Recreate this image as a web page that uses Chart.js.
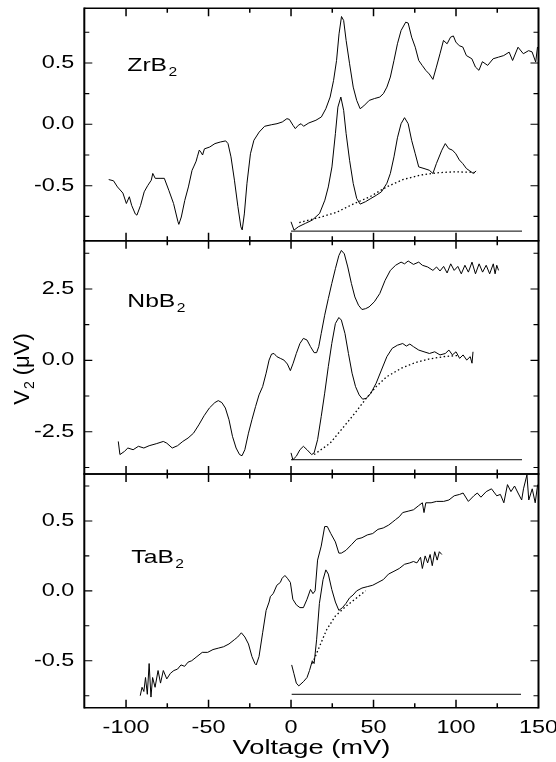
<!DOCTYPE html>
<html>
<head>
<meta charset="utf-8">
<script src="https://cdn.jsdelivr.net/npm/chart.js@4.4.0/dist/chart.umd.min.js"></script>
<style>
  html, body { margin: 0; padding: 0; background: #fff; }
  #wrap { position: relative; width: 556px; height: 762px; }
  #wrap canvas { position: absolute; left: 0; top: 0; }
</style>
</head>
<body>
<div id="wrap">
  <canvas id="cZr" width="556" height="762"></canvas>
  <canvas id="cNb" width="556" height="762"></canvas>
  <canvas id="cTa" width="556" height="762"></canvas>
</div>
<script>
// ---- axes ----
const xLabelTicks = [-100, -50, 0, 50, 100, 150];
const xTickMarks = [-100, -75, -50, -25, 0, 25, 50, 75, 100, 125];
const smallTicks = [-0.75, -0.5, -0.25, 0, 0.25, 0.5, 0.75];
const smallMajor = [-0.5, 0, 0.5];
const nbTicks = [-3.75, -2.5, -1.25, 0, 1.25, 2.5, 3.75];
const nbMajor = [-2.5, 0, 2.5];

// ---- ZrB2 ----
const zrTopX = [
  -110.5, -107.6, -105.2, -101.9, -99.8, -98, -96.6, -94.4, -93.4, -91.2,
  -89, -86.9, -84.7, -83.8, -82.3, -79.4, -76.8, -74, -71.2, -68.6,
  -68, -66.5, -64.4, -62.2, -60, -58.8, -57.5, -56.8, -55.6, -54.7,
  -53.6, -52.5, -49.3, -46.1, -42.8, -39.6, -38.2, -36.4, -34.3, -32.2,
  -30.4, -29.6, -28.3, -26.7, -24.6, -22.5, -19.3, -16, -11.7, -8.5,
  -5.3, -2.5, -1, 1.2, 2.6, 4.4, 6.1, 7.6, 10.8, 15.1,
  18.4, 21.1, 23.7, 25.8, 27.6, 29.1, 30.6, 31.9, 33.4, 35.5,
  37.7, 39.8, 41.9, 44.1, 47.4, 50.6, 53.8, 56, 58.1, 60.2,
  62.4, 64.5, 66.7, 69.5, 71, 73.1, 75.3, 77.4, 79.5, 81.7,
  83.8, 86, 88.1, 90.3, 92.4, 94.6, 96.7, 98.4, 99.9, 102,
  104.1, 106.3, 109.6, 111.8, 113.9, 116, 119.2, 122.5, 125.7, 128.9,
  132.2, 134.3, 137.6, 140.8, 144, 146.1, 148.3, 149.4
];
const zrTopY = [
  -0.45, -0.46, -0.51, -0.56, -0.645, -0.59, -0.66, -0.73, -0.74, -0.66,
  -0.55, -0.5, -0.455, -0.40, -0.44, -0.44, -0.44, -0.54, -0.645, -0.79,
  -0.815, -0.755, -0.62, -0.51, -0.375, -0.34, -0.30, -0.265, -0.21, -0.225,
  -0.25, -0.2, -0.185, -0.157, -0.144, -0.135, -0.157, -0.265, -0.455, -0.67,
  -0.835, -0.86, -0.73, -0.48, -0.24, -0.13, -0.063, -0.016, -0.003, 0.005,
  0.019, 0.046, 0.04, -0.008, -0.035, -0.008, 0.005, -0.016, 0.011, 0.033,
  0.06, 0.127, 0.222, 0.358, 0.52, 0.737, 0.878, 0.846, 0.683, 0.493,
  0.303, 0.195, 0.127, 0.15, 0.195, 0.21, 0.222, 0.25, 0.303, 0.385,
  0.52, 0.656, 0.764, 0.832, 0.825, 0.71, 0.628, 0.52, 0.48, 0.439,
  0.41, 0.366, 0.466, 0.575, 0.683, 0.656, 0.71, 0.72, 0.67, 0.64,
  0.63, 0.56, 0.534, 0.466, 0.44, 0.51, 0.48, 0.534, 0.547, 0.56,
  0.588, 0.52, 0.628, 0.575, 0.6, 0.59, 0.507, 0.63
];
const zrLowX = [
  0, 1.8, 4.4, 8.7, 12.9, 17.3, 20.5, 22.6, 24.8, 26.9,
  28.4, 30.2, 31.9, 33.4, 35.5, 37.7, 39.8, 41.9, 45.2, 48.4,
  51.7, 54.8, 58.1, 60.2, 62.4, 64.5, 66.7, 68.8, 71, 73.1,
  75.3, 77.4, 80.6, 83.8, 86, 88.1, 91.4, 93.5, 95.6, 97.8,
  99.9, 102, 104.1, 106.3, 108.4, 110.5, 112.2
];
const zrLowY = [
  -0.794, -0.862, -0.835, -0.807, -0.78, -0.726, -0.618, -0.51, -0.347, -0.076,
  0.14, 0.222, 0.114, -0.076, -0.293, -0.482, -0.604, -0.65, -0.63, -0.604,
  -0.578, -0.55, -0.48, -0.4, -0.265, -0.11, 0.005, 0.054, 0.005, -0.13,
  -0.24, -0.347, -0.36, -0.374, -0.4, -0.32, -0.211, -0.157, -0.198, -0.21,
  -0.24, -0.29, -0.32, -0.36, -0.38, -0.40, -0.38
];
const zrBgX = [5, 17.3, 27.4, 37.6, 47.8, 57.9, 68.1, 78.3, 88.4, 98.6, 108.7, 113];
const zrBgY = [-0.80, -0.758, -0.718, -0.65, -0.59, -0.51, -0.449, -0.414, -0.395, -0.387, -0.39, -0.395];
const zrBaseX = [0, 140];
const zrBaseY = [-0.87, -0.87];

// ---- NbB2 ----
const nbTopX = [
  -104.7, -103.7, -101, -98.9, -95.7, -92.5, -89.2, -86, -81.7, -77.4,
  -75.3, -72, -68.8, -65.6, -62.4, -59.1, -55.9, -52.7, -49.5, -46.2,
  -44.1, -41.9, -39.8, -37.6, -35.5, -33.3, -31.2, -29.7, -28, -25.8,
  -23.7, -21.5, -19.4, -17.2, -15.1, -13.3, -11.8, -10.3, -8.6, -6.5,
  -4.3, -2.2, -0.4, 1.3, 3.2, 5.4, 7.5, 9.7, 11.8, 14,
  15.5, 16.8, 18.3, 20.4, 22.6, 24.7, 26.9, 29, 30.5, 32.3,
  34.4, 36.6, 38.7, 40.9, 43, 45.2, 47.3, 50.5, 53.8, 57,
  60.2, 63.4, 66.7, 68.8, 71, 74.2, 77.4, 79.6, 82.8, 86,
  88.2, 90.3, 92.5, 94.6, 96.8, 98.9, 101.1, 103.2, 105.4, 107.5,
  109.7, 111.8, 114, 116.1, 118.3, 120.4, 122.6, 123.7, 124.7, 125.8
];
const nbTopY = [
  -2.84, -3.30, -3.19, -3.07, -3.13, -3.01, -3.07, -2.99, -2.92, -2.84,
  -2.9, -3.07, -2.99, -2.84, -2.72, -2.55, -2.26, -1.94, -1.67, -1.48,
  -1.41, -1.48, -1.67, -2.08, -2.66, -3.07, -3.30, -3.34, -3.13, -2.55,
  -2.08, -1.62, -1.21, -0.92, -0.45, 0.01, 0.22, 0.24, 0.13, 0.07,
  0.01, -0.13, -0.36, -0.10, 0.24, 0.59, 0.77, 0.71, 0.48, 0.27,
  0.27, 0.48, 0.94, 1.58, 2.16, 2.69, 3.21, 3.67, 3.85, 3.73,
  3.27, 2.69, 2.22, 1.93, 1.78, 1.81, 1.87, 2.05, 2.34, 2.80,
  3.15, 3.33, 3.44, 3.38, 3.48, 3.36, 3.44, 3.33, 3.27, 3.15,
  3.27, 3.13, 3.29, 3.06, 3.38, 3.15, 3.29, 3.03, 3.33, 3.09,
  3.44, 3.03, 3.38, 3.09, 3.33, 3.03, 3.38, 3.03, 3.33, 3.15
];
const nbLowX = [
  0, 1.1, 3.2, 5.4, 7.5, 9.7, 12.5, 14, 16.1, 18.3,
  20.4, 22.6, 24.7, 26.9, 29, 30.5, 32.7, 34.8, 37, 39.1,
  41.3, 43.4, 45.6, 48.4, 51.6, 54.8, 58.1, 61.3, 64.5, 67.7,
  69.9, 72, 74.2, 77.4, 80.6, 83.9, 87.1, 90.3, 93.5, 95.7,
  97.8, 100, 102.2, 104.3, 106.5, 108.6, 109.7, 110.3
];
const nbLowY = [
  -3.24, -3.48, -3.36, -3.13, -3.01, -3.13, -3.30, -3.24, -2.78, -1.97,
  -1.15, -0.22, 0.59, 1.29, 1.50, 1.41, 0.94, 0.24, -0.45, -0.92,
  -1.21, -1.36, -1.33, -1.15, -0.80, -0.34, 0.13, 0.42, 0.53, 0.59,
  0.50, 0.57, 0.48, 0.36, 0.30, 0.24, 0.30, 0.19, 0.24, 0.36,
  0.19, 0.30, 0.07, 0.19, 0.01, 0.13, -0.10, 0.30
];
const nbBgX = [14, 23.7, 31.2, 38.7, 45.2, 51.6, 58.1, 66.7, 75.3, 83.9, 92.5, 101.1];
const nbBgY = [-3.30, -2.90, -2.38, -1.85, -1.36, -0.92, -0.57, -0.28, -0.08, 0.05, 0.13, 0.17];
const nbBaseX = [0, 140];
const nbBaseY = [-3.48, -3.48];

// ---- TaB2 ----
const taTopX = [
  -91.4, -90.3, -89.2, -88.2, -87.1, -86, -84.9, -83.9, -82.4, -80.6,
  -79.1, -77.4, -75.3, -73.1, -71, -68.8, -66.7, -64.5, -62.4, -60.2,
  -57, -53.8, -50.5, -47.3, -44.1, -40.9, -37.6, -34.4, -32.3, -30.1,
  -28, -25.8, -23.7, -21.9, -21.1, -19.4, -17.2, -15.1, -13.3, -12.5,
  -10.8, -8.6, -6.5, -5.4, -3.7, -2.2, -0.4, 1.1, 3.2, 5.4,
  7.5, 9.7, 11.8, 13.3, 14.6, 16.1, 18.3, 20.4, 22, 24.1,
  26.9, 29, 30.5, 33.3, 36.6, 39.8, 43, 46.2, 49.5, 52.7,
  55.9, 59.1, 61.3, 63.4, 65.6, 67.7, 71, 74.2, 77.4, 79.6,
  80.6, 81.7, 84.9, 88.2, 92.5, 95.7, 98.9, 102.2, 104.3, 107.5,
  110.8, 112.9, 115.1, 118.3, 121.5, 124.7, 126.9, 129, 131.2, 133.3,
  135.5, 137.6, 139.8, 140.9, 143, 144.1, 146.2, 148, 149.5
];
const taTopY = [
  -0.75, -0.69, -0.72, -0.62, -0.74, -0.52, -0.76, -0.62, -0.69, -0.57,
  -0.66, -0.57, -0.63, -0.59, -0.57, -0.56, -0.53, -0.54, -0.51, -0.50,
  -0.47, -0.44, -0.44, -0.42, -0.41, -0.40, -0.38, -0.35, -0.33, -0.30,
  -0.33, -0.38, -0.47, -0.52, -0.53, -0.47, -0.30, -0.14, -0.08, -0.04,
  -0.02, 0.04, 0.06, 0.09, 0.11, 0.09, 0.06, -0.06, -0.10, -0.12,
  -0.12, -0.06, 0.01, -0.02, 0.00, 0.22, 0.32, 0.46, 0.46, 0.41,
  0.35, 0.27, 0.27, 0.29, 0.33, 0.37, 0.38, 0.40, 0.41, 0.44,
  0.45, 0.47, 0.49, 0.51, 0.53, 0.56, 0.57, 0.58, 0.61, 0.63,
  0.56, 0.63, 0.63, 0.64, 0.64, 0.65, 0.68, 0.69, 0.70, 0.64,
  0.68, 0.70, 0.67, 0.71, 0.73, 0.68, 0.69, 0.63, 0.76, 0.71,
  0.75, 0.70, 0.65, 0.73, 0.83, 0.65, 0.73, 0.63, 0.76
];
const taLowX = [
  0.4, 1.7, 3.2, 4.7, 7.5, 9.7, 11.2, 12.9, 14, 15.5,
  17.2, 19.4, 21.1, 22.6, 24.7, 26.9, 29, 31.2, 33.3, 35.5,
  37.6, 39.8, 43, 46.2, 49.5, 52.7, 55.9, 59.1, 62.4, 65.6,
  68.8, 72, 74.2, 76.3, 78.5, 79.6, 81.3, 82.8, 84.3, 85.6,
  87.1, 88.6, 89.9, 91.4
];
const taLowY = [
  -0.53, -0.59, -0.66, -0.68, -0.65, -0.62, -0.57, -0.50, -0.52, -0.35,
  -0.09, 0.08, 0.15, 0.12, 0.01, -0.08, -0.14, -0.12, -0.09, -0.05,
  -0.03, 0.00, 0.02, 0.03, 0.04, 0.06, 0.08, 0.12, 0.14, 0.16,
  0.19, 0.20, 0.21, 0.20, 0.24, 0.16, 0.25, 0.20, 0.26, 0.18,
  0.28, 0.22, 0.28, 0.26
];
const taBgX = [12.9, 17.2, 21.5, 26.9, 33.3, 40.9, 45.2];
const taBgY = [-0.52, -0.40, -0.28, -0.18, -0.11, -0.04, 0.00];
const taBaseX = [0.4, 139.4];
const taBaseY = [-0.74, -0.74];

// ---- layout ----
const FONT = '"Liberation Sans", Arial, Helvetica, sans-serif';
const W = 556, H = 762;
const PLOT_LEFT = 84.3, PLOT_RIGHT = 538.5;
const X_MIN = -125.3, X_MAX = 150;
const SX = 1.3; // the source figure's lettering is drawn wide

function pts(xs, ys) {
  return xs.map((x, i) => ({ x, y: ys[i] }));
}

function trace(xs, ys) {
  return { data: pts(xs, ys), borderColor: "#000", borderWidth: 1, pointRadius: 0, tension: 0, fill: false };
}

function dotted(xs, ys) {
  return { ...trace(xs, ys), borderDash: [1.5, 2.5], borderWidth: 1.3 };
}

function isMajor(list, v) {
  return list.some((m) => Math.abs(m - v) < 1e-9);
}

function wideText(ctx, text, x, y, size, align, baseline) {
  ctx.save();
  ctx.font = size + "px " + FONT;
  ctx.textAlign = align;
  ctx.textBaseline = baseline;
  ctx.translate(x, y);
  ctx.scale(SX, 1);
  ctx.fillText(text, 0, 0);
  ctx.restore();
}

function wideSub(ctx, main, sub, x, y, size) {
  ctx.save();
  ctx.translate(x, y);
  ctx.scale(SX, 1);
  ctx.textAlign = "left";
  ctx.textBaseline = "alphabetic";
  ctx.font = size + "px " + FONT;
  ctx.fillText(main, 0, 0);
  const w = ctx.measureText(main).width;
  ctx.font = Math.round(size * 0.62) + "px " + FONT;
  ctx.fillText(sub, w + 1, size * 0.28);
  ctx.restore();
}

function framePlugin(p) {
  return {
    id: "frame",
    afterDraw(chart) {
      const { ctx, chartArea: a } = chart;
      const x = chart.scales.x, y = chart.scales.y;
      ctx.save();
      ctx.strokeStyle = "#000";
      ctx.fillStyle = "#000";

      // y ticks (inward, both sides)
      ctx.lineWidth = 1.1;
      ctx.beginPath();
      p.ticks.forEach((v) => {
        const py = y.getPixelForValue(v);
        const len = isMajor(p.major, v) ? 8 : 5;
        ctx.moveTo(a.left, py); ctx.lineTo(a.left + len, py);
        ctx.moveTo(a.right, py); ctx.lineTo(a.right - len, py);
      });
      ctx.stroke();

      // x ticks (inward, top and bottom)
      ctx.lineWidth = 1.5;
      ctx.beginPath();
      xTickMarks.forEach((v) => {
        const px = x.getPixelForValue(v);
        const len = v % 50 === 0 ? 8 : 4.5;
        ctx.moveTo(px, a.top); ctx.lineTo(px, a.top + len);
        ctx.moveTo(px, a.bottom); ctx.lineTo(px, a.bottom - len);
      });
      ctx.stroke();

      // frame: vertical sides heavier than horizontal ones
      ctx.lineWidth = 1.4;
      ctx.beginPath();
      ctx.moveTo(a.left, a.top); ctx.lineTo(a.right, a.top);
      ctx.moveTo(a.left, a.bottom); ctx.lineTo(a.right, a.bottom);
      ctx.stroke();
      ctx.lineWidth = 2;
      ctx.beginPath();
      ctx.moveTo(a.left, a.top - 0.7); ctx.lineTo(a.left, a.bottom + 0.7);
      ctx.moveTo(a.right, a.top - 0.7); ctx.lineTo(a.right, a.bottom + 0.7);
      ctx.stroke();

      // y tick labels
      p.major.forEach((v) => {
        wideText(ctx, v.toFixed(1), a.left - 10, y.getPixelForValue(v), 18, "right", "middle");
      });

      // x tick labels + title on the bottom panel
      if (p.showX) {
        xLabelTicks.forEach((v) => {
          wideText(ctx, String(v), x.getPixelForValue(v), a.bottom + 20, 18, "center", "middle");
        });
        wideText(ctx, "Voltage (mV)", (a.left + a.right) / 2, a.bottom + 41, 21, "center", "middle");
      }

      // panel name
      wideSub(ctx, p.name, "2", a.left + p.labelDx, p.labelY, 19);

      // y title
      if (p.yTitle) {
        ctx.save();
        ctx.translate(29, 369);
        ctx.rotate(-Math.PI / 2);
        ctx.textAlign = "left";
        ctx.textBaseline = "alphabetic";
        ctx.font = "22px " + FONT;
        const wV = ctx.measureText("V").width;
        const wRest = ctx.measureText(" (\u03bcV)").width;
        ctx.font = "14px " + FONT;
        const w2 = ctx.measureText("2").width;
        const cx = -(wV + 1 + w2 + wRest) / 2;
        ctx.font = "22px " + FONT;
        ctx.fillText("V", cx, 0);
        ctx.font = "14px " + FONT;
        ctx.fillText("2", cx + wV + 1, 5);
        ctx.font = "22px " + FONT;
        ctx.fillText(" (\u03bcV)", cx + wV + 1 + w2, 0);
        ctx.restore();
      }
      ctx.restore();
    },
  };
}

const panels = [
  {
    id: "cZr", top: 8.3, bottom: 240.7, yMin: -0.948, yMax: 0.945,
    ticks: smallTicks, major: smallMajor, name: "ZrB", labelDx: 43, labelY: 71,
    datasets: [trace(zrTopX, zrTopY), trace(zrLowX, zrLowY), dotted(zrBgX, zrBgY), trace(zrBaseX, zrBaseY)],
  },
  {
    id: "cNb", top: 240.7, bottom: 474, yMin: -3.98, yMax: 4.19,
    ticks: nbTicks, major: nbMajor, name: "NbB", labelDx: 43, labelY: 307, yTitle: true,
    datasets: [trace(nbTopX, nbTopY), trace(nbLowX, nbLowY), dotted(nbBgX, nbBgY), trace(nbBaseX, nbBaseY)],
  },
  {
    id: "cTa", top: 474, bottom: 707.7, yMin: -0.836, yMax: 0.836,
    ticks: smallTicks, major: smallMajor, name: "TaB", labelDx: 47, labelY: 563, showX: true,
    datasets: [trace(taTopX, taTopY), trace(taLowX, taLowY), dotted(taBgX, taBgY), trace(taBaseX, taBaseY)],
  },
];

panels.forEach((p) => {
  new Chart(document.getElementById(p.id), {
    type: "line",
    data: { datasets: p.datasets },
    options: {
      responsive: false,
      animation: false,
      events: [],
      layout: {
        padding: { top: p.top, bottom: H - p.bottom, left: PLOT_LEFT, right: W - PLOT_RIGHT },
      },
      plugins: { legend: { display: false }, tooltip: { enabled: false } },
      scales: {
        x: { type: "linear", min: X_MIN, max: X_MAX, display: false },
        y: { type: "linear", min: p.yMin, max: p.yMax, display: false },
      },
    },
    plugins: [framePlugin(p)],
  });
});
</script>
</body>
</html>
